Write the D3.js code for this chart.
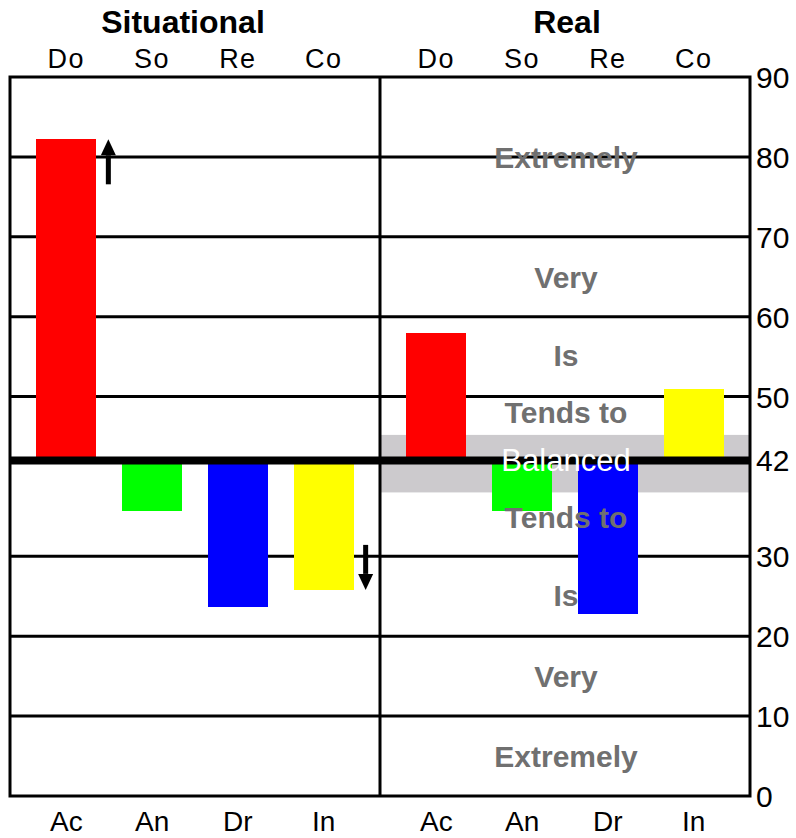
<!DOCTYPE html>
<html><head><meta charset="utf-8">
<script src="https://cdn.jsdelivr.net/npm/d3@7"></script>
<style>body{margin:0;background:#fff}svg{display:block}text{font-family:"Liberation Sans",Arial,sans-serif}</style>
</head><body>
<script>
const panels = ["Situational", "Real"];
const topCats = ["Do", "So", "Re", "Co"];
const bottomCats = ["Ac", "An", "Dr", "In"];
const colors = ["#ff0000", "#00ff00", "#0000ff", "#ffff00"];
const situationalValues = [82.2, 35.7, 23.7, 25.8];
const realValues = [57.9, 35.7, 22.8, 50.9];
const baseline = 42;
const yTicks = [0, 10, 20, 30, 42, 50, 60, 70, 80, 90];
const gridValues = [10, 20, 30, 50, 60, 70, 80];
const balancedBand = [38, 45.2];
const zoneLabels = ["Extremely", "Very", "Is", "Tends to", "Balanced", "Tends to", "Is", "Very", "Extremely"];
const zoneValues = [80, 65, 55.2, 48.1, 42, 34.9, 25.2, 15, 5];
const arrows = [{panel: 0, cat: "Do", dir: "up"}, {panel: 0, cat: "Co", dir: "down"}];

const W = 796, H = 838;
const L = 10, R = 750, T = 77, B = 796, MID = 380;
const svg = d3.select("body").append("svg").attr("width", W).attr("height", H);
const y = d3.scaleLinear().domain([0, 90]).range([B, T]);
const xs = [
  d3.scaleBand().domain(topCats).range([L, MID]).paddingInner(0.3).paddingOuter(0.307),
  d3.scaleBand().domain(topCats).range([MID, R]).paddingInner(0.3).paddingOuter(0.307)
];
const valuesByPanel = [situationalValues, realValues];

// gray balanced band (right panel)
svg.append("rect").attr("x", MID).attr("width", R - MID)
  .attr("y", y(balancedBand[1])).attr("height", y(balancedBand[0]) - y(balancedBand[1]))
  .attr("fill", "#cccacd");

// gridlines
svg.selectAll("line.grid").data(gridValues).join("line")
  .attr("x1", L).attr("x2", R).attr("y1", d => y(d)).attr("y2", d => y(d))
  .attr("stroke", "#000").attr("stroke-width", 3);

// bars
valuesByPanel.forEach((vals, p) => {
  const x = xs[p];
  svg.append("g").selectAll("rect").data(vals).join("rect")
    .attr("x", (d, i) => x(topCats[i])).attr("width", x.bandwidth())
    .attr("y", d => y(Math.max(d, baseline)))
    .attr("height", d => Math.abs(y(d) - y(baseline)))
    .attr("fill", (d, i) => colors[i]).attr("shape-rendering", "crispEdges");
});

// frame and divider
svg.append("rect").attr("x", L).attr("y", T).attr("width", R - L).attr("height", B - T)
  .attr("fill", "none").attr("stroke", "#000").attr("stroke-width", 3);
svg.append("line").attr("x1", MID).attr("x2", MID).attr("y1", T).attr("y2", B)
  .attr("stroke", "#000").attr("stroke-width", 3);

// thick baseline
svg.append("line").attr("x1", L).attr("x2", R).attr("y1", y(baseline)).attr("y2", y(baseline))
  .attr("stroke", "#000").attr("stroke-width", 8);

// arrows
arrows.forEach(a => {
  const x = xs[a.panel];
  const i = topCats.indexOf(a.cat);
  const v = valuesByPanel[a.panel][i];
  const cx = x(a.cat) + x.bandwidth() / 2 + 42;
  const tip = y(v);
  const s = a.dir === "up" ? 1 : -1;
  const tail = tip + s * 45;
  const headEnd = tip + s * 16;
  svg.append("line").attr("x1", cx).attr("x2", cx).attr("y1", headEnd).attr("y2", tail)
    .attr("stroke", "#000").attr("stroke-width", 5);
  svg.append("path").attr("d", `M${cx},${tip}L${cx - 7.5},${headEnd}L${cx + 7.5},${headEnd}Z`).attr("fill", "#000");
});

// zone labels (right panel)
const zx = (MID + R) / 2 + 1;
svg.append("g").selectAll("text").data(zoneLabels).join("text")
  .attr("x", zx).attr("y", (d, i) => y(zoneValues[i]) + 11)
  .attr("text-anchor", "middle")
  .attr("font-size", (d, i) => d === "Balanced" ? 31 : 30)
  .attr("font-weight", d => d === "Balanced" ? "normal" : "bold")
  .attr("fill", d => d === "Balanced" ? "#fff" : "#707070")
  .text(d => d);

// y tick labels (right)
svg.append("g").selectAll("text").data(yTicks).join("text")
  .attr("x", 756).attr("y", d => y(d) + 11).attr("font-size", 30).attr("fill", "#000")
  .text(d => d);

// panel titles and category labels
const titleX = [183, 567];
panels.forEach((t, p) => {
  const x = xs[p];
  svg.append("text").attr("x", titleX[p]).attr("y", 33)
    .attr("text-anchor", "middle").attr("font-size", 32).attr("font-weight", "bold").text(t);
  svg.append("g").selectAll("text").data(topCats).join("text")
    .attr("x", d => x(d) + x.bandwidth() / 2).attr("y", 68)
    .attr("text-anchor", "middle").attr("font-size", 27).attr("letter-spacing", 1.5).text(d => d);
  svg.append("g").selectAll("text").data(bottomCats).join("text")
    .attr("x", (d, i) => x(topCats[i]) + x.bandwidth() / 2).attr("y", 831)
    .attr("text-anchor", "middle").attr("font-size", 28).text(d => d);
});
</script>
</body></html>
